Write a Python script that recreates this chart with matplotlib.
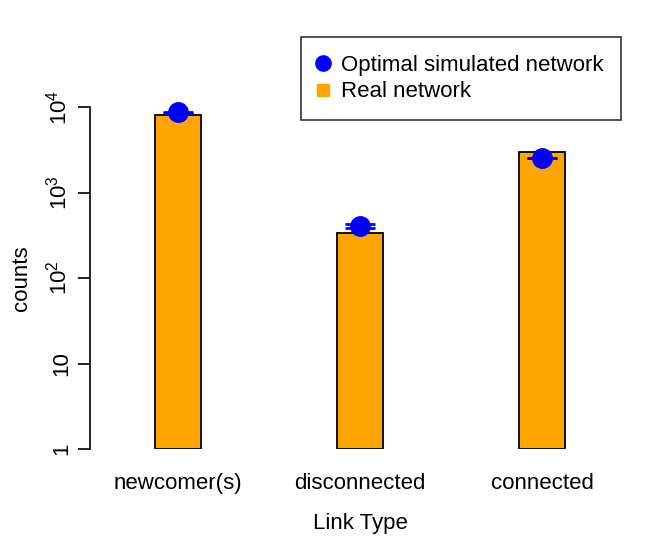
import numpy as np
import matplotlib.pyplot as plt
from matplotlib.lines import Line2D

plt.rcParams['font.family'] = ['Liberation Sans', 'DejaVu Sans']
plt.rcParams['mathtext.fontset'] = 'custom'
plt.rcParams['mathtext.rm'] = 'Liberation Sans'
plt.rcParams['mathtext.it'] = 'Liberation Sans'

# data
link_types = ['newcomer(s)', 'disconnected', 'connected']
real_counts = [8050, 336, 2980]
sim_counts = [8700, 405, 2540]
sim_low = [8600, 384, 2520]
sim_high = [8800, 428, 2560]

fig = plt.figure(figsize=(6.59, 5.4), dpi=100)
# axes mapped so that 1 -> y=449 px, 1e4 -> y=107 px
ax = fig.add_axes([90/659, (540-449)/540, 540/659, (449-107)/540])

x = np.arange(len(link_types))
ax.bar(x, real_counts, width=0.253, bottom=1, color='#FFA500',
       edgecolor='black', linewidth=1.3, zorder=2)

sim = np.array(sim_counts)
yerr = [sim - np.array(sim_low), np.array(sim_high) - sim]
ax.errorbar(x, sim, yerr=yerr, fmt='o', color='blue', ms=14, capsize=11,
            capthick=2, elinewidth=2, zorder=3, clip_on=False)

ax.set_yscale('log')
ax.set_ylim(1, 1e4)
ax.set_xlim(-0.484, 2.484)
ax.set_yticks([1, 10, 100, 1000, 10000])
ax.set_yticklabels(['1', '10', '$10^2$', '$10^3$', '$10^4$'], rotation=90,
                   va='center')
ax.minorticks_off()
ax.set_xticks(x)
ax.set_xticklabels(link_types)
ax.tick_params(axis='y', length=9, width=1.2, labelsize=16, pad=4)
ax.tick_params(axis='x', length=0, labelsize=16, pad=17)
for s in ['top', 'right', 'bottom']:
    ax.spines[s].set_visible(False)
ax.spines['left'].set_linewidth(1.2)
ax.set_ylabel('counts', fontsize=16, labelpad=10)
ax.set_xlabel('Link Type', fontsize=16, labelpad=14)

handles = [Line2D([], [], marker='o', color='blue', ls='none', ms=11),
           Line2D([], [], marker='s', color='#FFA500', ls='none', ms=9)]
leg = fig.legend(handles, ['Optimal simulated network', 'Real network'],
                 loc='upper left', bbox_to_anchor=(301/659, 1-37/540),
                 fontsize=16, frameon=True, fancybox=False, borderpad=0.8,
                 handletextpad=0.6, labelspacing=0.25, handlelength=0.4,
                 borderaxespad=0)
leg.get_frame().set_edgecolor('black')
leg.get_frame().set_linewidth(1.2)

fig.savefig('out.png', dpi=100)
